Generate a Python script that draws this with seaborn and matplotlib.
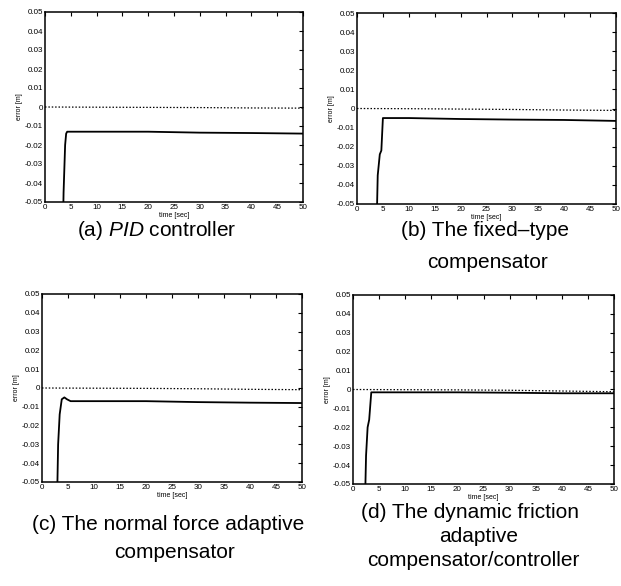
import numpy as np
import seaborn as sns
import matplotlib.pyplot as plt

sns.set_style("white")
plt.rcParams['font.family'] = ['Liberation Sans', 'DejaVu Sans']
plt.rcParams['mathtext.fontset'] = 'custom'
plt.rcParams['mathtext.rm'] = 'Liberation Sans'
plt.rcParams['mathtext.it'] = 'Liberation Sans:italic'
plt.rcParams['text.color'] = 'black'
plt.rcParams['axes.labelcolor'] = 'black'
plt.rcParams['xtick.color'] = 'black'
plt.rcParams['ytick.color'] = 'black'

# time samples and tracking error
t_a = [0, 3.5, 3.6, 3.9, 4.1, 4.3, 10, 20, 30, 40, 50]
e_a = [-0.06, -0.06, -0.045, -0.02, -0.014, -0.013, -0.013, -0.013, -0.0135, -0.0137, -0.014]

t_b = [0, 3.8, 4.0, 4.4, 4.7, 5.0, 10, 20, 30, 40, 50]
e_b = [-0.06, -0.06, -0.035, -0.024, -0.022, -0.005, -0.005, -0.0055, -0.0058, -0.006, -0.0065]

t_c = [0, 2.9, 3.1, 3.4, 3.8, 4.3, 4.8, 5.5, 10, 20, 30, 40, 50]
e_c = [-0.06, -0.06, -0.03, -0.014, -0.006, -0.005, -0.006, -0.007, -0.007, -0.007, -0.0075, -0.0078, -0.008]

t_d = [0, 2.3, 2.5, 2.8, 3.1, 3.5, 10, 20, 30, 40, 50]
e_d = [-0.06, -0.06, -0.035, -0.02, -0.016, -0.0015, -0.0015, -0.0015, -0.0017, -0.002, -0.002]

# dotted reference line (slight drift)
t_ref = [0, 10, 20, 30, 40, 50]
r_a = [0, -0.0001, -0.0002, -0.0003, -0.0005, -0.0006]
r_b = [0, -0.0001, -0.0003, -0.0005, -0.0008, -0.001]
r_c = [0, -0.0001, -0.0002, -0.0004, -0.0007, -0.0009]
r_d = [0, -0.0001, -0.0002, -0.0004, -0.0008, -0.0012]

captions = [
    ["(a) $\\it{PID}$ controller"],
    ["(b) The fixed\u2013type", "compensator"],
    ["(c) The normal force adaptive", "compensator"],
    ["(d) The dynamic friction", "adaptive", "compensator/controller"],
]

W, H = 621, 586
boxes = [(45, 12, 303, 202), (357, 13, 616, 204), (42, 294, 302, 482), (353, 295, 614, 484)]
# caption line centres (x, y) in pixels
cap_pos = [
    [(157, 230)],
    [(485, 230), (487, 262)],
    [(168, 525), (175, 553)],
    [(470, 513), (479, 537), (473, 560)],
]
series = [(t_a, e_a, r_a), (t_b, e_b, r_b), (t_c, e_c, r_c), (t_d, e_d, r_d)]

fig = plt.figure(figsize=(W / 100, H / 100), dpi=100)

for (x0, y0, x1, y1), (t, e, r), cap, pos in zip(boxes, series, captions, cap_pos):
    ax = fig.add_axes([x0 / W, 1 - y1 / H, (x1 - x0) / W, (y1 - y0) / H])
    sns.lineplot(x=t, y=e, ax=ax, color='black', linewidth=1.3)
    sns.lineplot(x=t_ref, y=r, ax=ax, color='black', linewidth=0.9, linestyle=(0, (1.2, 1.5)))
    ax.set_xlim(0, 50)
    ax.set_ylim(-0.05, 0.05)
    ax.set_xticks(np.arange(0, 51, 5))
    ax.set_yticks(np.round(np.arange(-0.05, 0.051, 0.01), 2))
    ax.set_yticklabels(['-0.05', '-0.04', '-0.03', '-0.02', '-0.01', '0',
                        '0.01', '0.02', '0.03', '0.04', '0.05'])
    ax.tick_params(direction='in', top=True, right=True, length=3, width=0.8,
                   labelsize=5.8, pad=1.5)
    for s in ax.spines.values():
        s.set_linewidth(1.1)
        s.set_color('black')
    ax.set_xlabel("time [sec]", fontsize=5, labelpad=1)
    ax.set_ylabel("error [m]", fontsize=5, labelpad=1)
    for line, (cx, cy) in zip(cap, pos):
        fig.text(cx / W, 1 - cy / H, line, ha='center', va='center', fontsize=15)

fig.savefig("out.png", dpi=100)
